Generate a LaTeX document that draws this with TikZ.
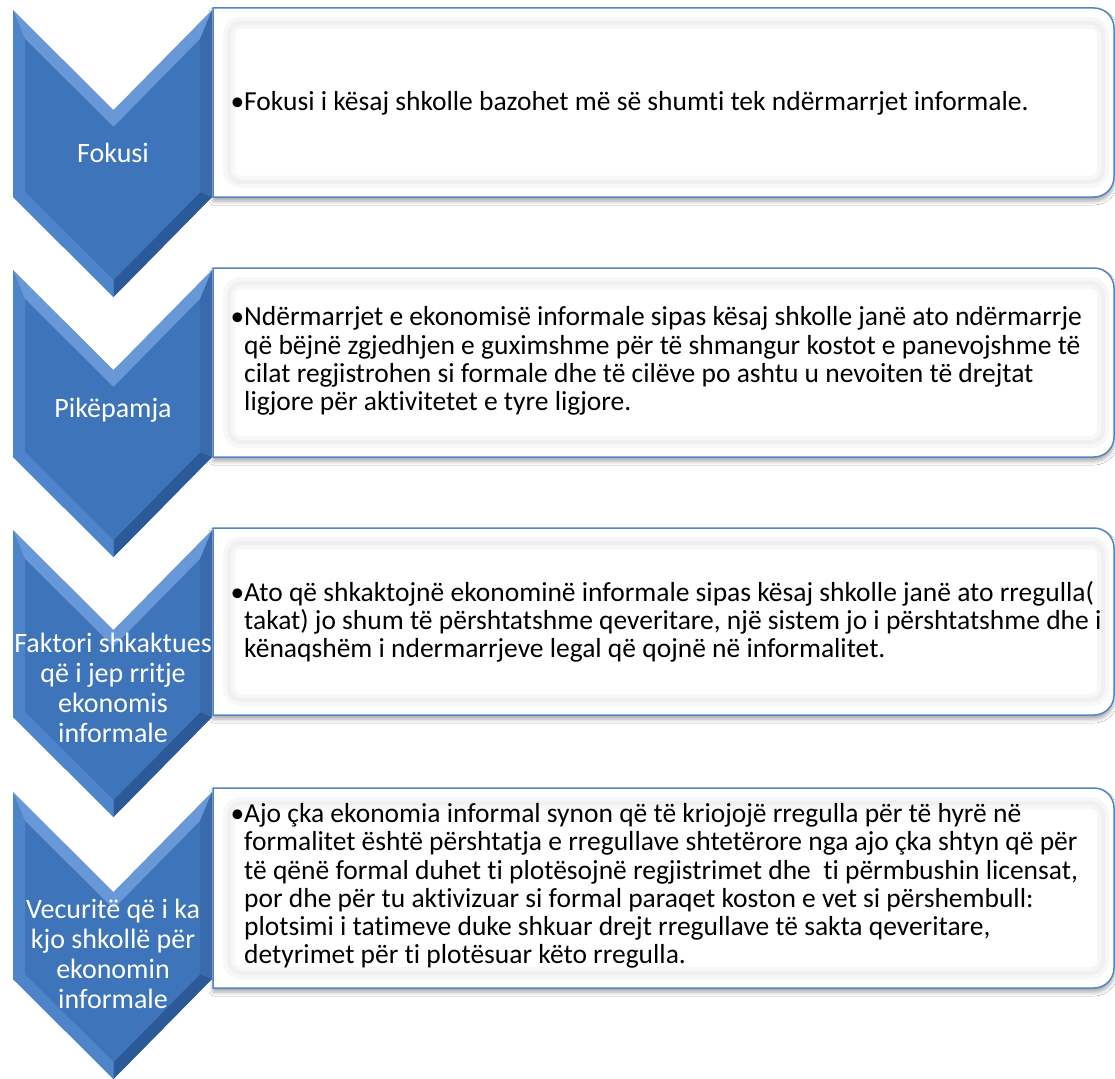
\documentclass[tikz,border=0pt]{standalone}
\usepackage{fontspec}
\setmainfont{Carlito}[Ligatures={NoCommon}]
\usepackage{tikz}
\usetikzlibrary{shadows.blur}

\definecolor{chevblue}{RGB}{61,116,186}
\definecolor{chevlight}{RGB}{104,152,216}
\definecolor{chevside}{RGB}{78,132,202}
\definecolor{chevshade}{RGB}{56,106,172}
\definecolor{chevdark}{RGB}{44,90,152}
\definecolor{paneledge}{RGB}{84,132,194}

\tikzset{
  chevlabel/.style={text=white, align=center, inner sep=0pt,
    font=\fontsize{28}{30}\selectfont},
  boxtext/.style={anchor=west, align=left, inner sep=0pt,
    font=\fontsize{27.5}{28.3}\selectfont},
  panel/.style={fill=white, draw=paneledge, line width=1.5pt,
    blur shadow={shadow xshift=0pt, shadow yshift=-4pt, shadow blur radius=4pt, shadow opacity=35}}
}

% chevron with its top edge at y = #1
\newcommand{\chevronat}[1]{%
  \fill[chevlight] (13,#1) -- (113.5,#1+100) -- (212,#1) -- (212,#1+187) -- (113.5,#1+287) -- (13,#1+187) -- cycle;
  \fill[chevside] (13,#1) -- (25,#1+29) -- (25,#1+182) -- (13,#1+187) -- cycle;
  \fill[chevshade] (212,#1) -- (200,#1+29) -- (200,#1+182) -- (212,#1+187) -- cycle;
  \fill[chevside] (13,#1+187) -- (25,#1+182) -- (113.5,#1+270) -- (113.5,#1+287) -- cycle;
  \fill[chevdark] (212,#1+187) -- (200,#1+182) -- (113.5,#1+270) -- (113.5,#1+287) -- cycle;
  \fill[chevblue] (25,#1+29) -- (113.5,#1+117) -- (200,#1+29) -- (200,#1+182) -- (113.5,#1+270) -- (25,#1+182) -- cycle;
}
% text panel from y = #1 to y = #2
\newcommand{\panelat}[2]{%
  \draw[panel] (213,#1) -- (1094,#1) .. controls (1105,#1) and (1114,#1+9) .. (1114,#1+20)
    -- (1114,#2-20) .. controls (1114,#2-9) and (1105,#2) .. (1094,#2) -- (213,#2) -- cycle;
  \draw[black!3, line width=12pt, rounded corners=12] (229,#1+15) rectangle (1103,#2-15);
  \draw[black!6, line width=4pt, rounded corners=12] (229,#1+15) rectangle (1103,#2-15);
}

\begin{document}
\begin{tikzpicture}[x=1pt, y=-1pt]
  \fill[white] (0,0) rectangle (1115,1078);
  \useasboundingbox (0,0) rectangle (1115,1078);

  % panels
  \panelat{8}{197}
  \panelat{268}{457}
  \panelat{528}{715}
  \panelat{788}{988}

  % chevrons
  \chevronat{10}
  \chevronat{270}
  \chevronat{530}
  \chevronat{792}

  \node[chevlabel] (fokusi) at (113,153) {Fokusi};
  \node[chevlabel] (pikepamja) at (113,410) {Pikëpamja};
  \node[chevlabel] (faktori) at (113,688) {Faktori shkaktues\\që i jep rritje\\ekonomis\\informale};
  \node[chevlabel] (vecurite) at (113,954) {Vecuritë që i ka\\kjo shkollë për\\ekonomin\\informale};

  \node[boxtext] (fokusitxt) at (244,103) {\llap{•}Fokusi i kësaj shkolle bazohet më së shumti tek ndërmarrjet informale.};
  \node[boxtext] (pikepamjatxt) at (244,361) {\llap{•}Ndërmarrjet e ekonomisë informale sipas kësaj shkolle janë ato ndërmarrje\\
    që bëjnë zgjedhjen e guximshme për të shmangur kostot e panevojshme të\\
    cilat regjistrohen si formale dhe të cilëve po ashtu u nevoiten të drejtat\\
    ligjore për aktivitetet e tyre ligjore.};
  \node[boxtext] (faktoritxt) at (244,622) {\llap{•}Ato që shkaktojnë ekonominë informale sipas kësaj shkolle janë ato rregulla(\\
    takat) jo shum të përshtatshme qeveritare, një sistem jo i përshtatshme dhe i\\
    kënaqshëm i ndermarrjeve legal që qojnë në informalitet.};
  \node[boxtext] (vecuritetxt) at (244,886) {\llap{•}Ajo çka ekonomia informal synon që të kriojojë rregulla për të hyrë në\\
    formalitet është përshtatja e rregullave shtetërore nga ajo çka shtyn që për\\
    të qënë formal duhet ti plotësojnë regjistrimet dhe\ \ ti përmbushin licensat,\\
    por dhe për tu aktivizuar si formal paraqet koston e vet si përshembull:\\
    plotsimi i tatimeve duke shkuar drejt rregullave të sakta qeveritare,\\
    detyrimet për ti plotësuar këto rregulla.};
\end{tikzpicture}
\end{document}
